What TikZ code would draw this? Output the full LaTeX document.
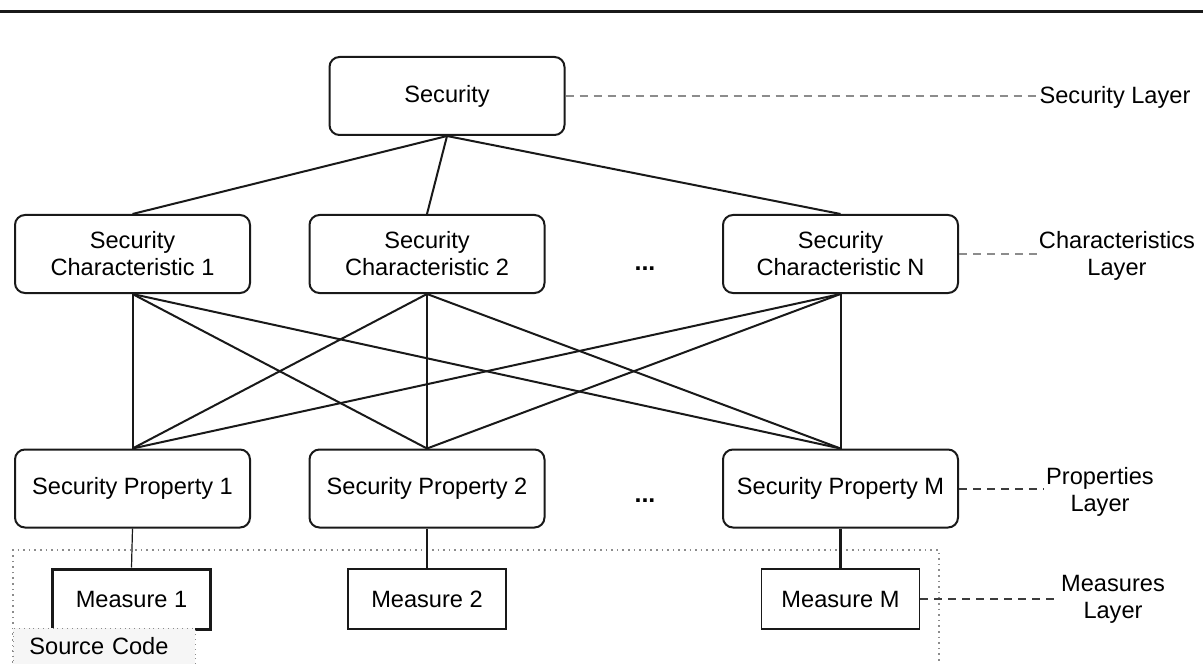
\documentclass[tikz,border=0pt]{standalone}
\usepackage{fontspec}
\setmainfont{Liberation Sans}
\usepackage{xcolor}
\definecolor{LineBlack}{RGB}{25,25,25}
\definecolor{GuideGray}{RGB}{140,140,140}
\definecolor{GuideDark}{RGB}{60,60,60}
\definecolor{FillGray}{RGB}{246,246,246}
\usetikzlibrary{positioning, calc}
\tikzset{
  % Rounded layer box
  rbox/.style={
    rectangle, rounded corners=5pt,
    draw=LineBlack, line width=1pt,
    align=center,
    minimum width=117.5pt, minimum height=39pt,
    font=\fontsize{11.8}{13.5}\selectfont,
    inner sep=2pt
  },
  % Measure boxes
  mbox/.style={
    rectangle, draw=LineBlack, line width=0.8pt,
    minimum width=79pt, minimum height=30pt,
    font=\fontsize{11.8}{13.5}\selectfont,
    inner sep=2pt
  },
  mbox thick/.style={mbox, line width=1.5pt},
  % Source code region
  srcbox/.style={
    rectangle, draw=GuideGray, dotted, fill=FillGray,
    minimum width=89pt, minimum height=18pt,
    font=\fontsize{11.8}{13.5}\selectfont,
    inner xsep=8pt, inner ysep=2pt
  },
  % Connectors
  link/.style={LineBlack, line width=1pt},
  link thin/.style={LineBlack, line width=0.6pt},
  link thick/.style={LineBlack, line width=1.4pt},
  guide/.style={GuideGray, line width=1pt, dash pattern=on 4pt off 3pt},
  guide dark/.style={guide, GuideDark},
  % Layer label
  layerlabel/.style={align=center, font=\fontsize{11.8}{13.5}\selectfont, inner sep=1pt},
}

\begin{document}
\begin{tikzpicture}[x=0.5pt, y=-0.5pt]
  \useasboundingbox (0,0) rectangle (1203,663);
  \draw[LineBlack, line width=1.5pt] (0,12) -- (1203,12);

  % layers
  \node[rbox] (sec) at (447,96) {Security};
  \node[rbox] (char1) at (132.5,254) {Security\\Characteristic 1};
  \node[rbox] (char2) at (427,254) {Security\\Characteristic 2};
  \node[rbox] (charN) at (840.5,254) {Security\\Characteristic N};
  \node[rbox] (prop1) at (132.5,488.5) {Security Property 1};
  \node[rbox] (prop2) at (427,488.5) {Security Property 2};
  \node[rbox] (propM) at (840.5,488.5) {Security Property M};
  \node[mbox thick] (meas1) at (131.5,599) {Measure 1};
  \node[mbox] (meas2) at (427,599) {Measure 2};
  \node[mbox] (measM) at (840.5,599) {Measure M};
  \node[font=\bfseries\fontsize{12.5}{14}\selectfont] (dots1) at (645,269) {...};
  \node[font=\bfseries\fontsize{12.5}{14}\selectfont] (dots2) at (645,501) {...};

  % source code region
  \draw[GuideGray, dotted, line width=0.8pt] (13,663) |- (939,550) -- (939,663);
  \node[srcbox, anchor=north west, text width=75pt] (src) at (13,628) {Source Code};

  % layer labels
  \node[layerlabel] (laySec) at (1115,97) {Security Layer};
  \node[layerlabel] (layChar) at (1117,256) {Characteristics\\Layer};
  \node[layerlabel] (layProp) at (1100,492) {Properties\\Layer};
  \node[layerlabel] (layMeas) at (1113,599) {Measures\\Layer};

  % links
  \foreach \c in {char1,char2,charN}
    \draw[link] (sec.south) -- (\c.north);
  \foreach \c in {char1,char2,charN}
    \foreach \p in {prop1,prop2,propM}
      \draw[link] (\c.south) -- (\p.north);
  \draw[link thin] (prop1.south) -- (meas1.north);
  \draw[link thick] (prop2.south) -- (meas2.north);
  \draw[link thick] (propM.south) -- (measM.north);

  \draw[guide] (sec.east) -- (sec.east -| laySec.west);
  \draw[guide] (charN.east) -- (charN.east -| layChar.west);
  \draw[guide dark] (propM.east) -- (propM.east -| layProp.west);
  \draw[guide dark] (measM.east) -- (measM.east -| layMeas.west);
\end{tikzpicture}
\end{document}
